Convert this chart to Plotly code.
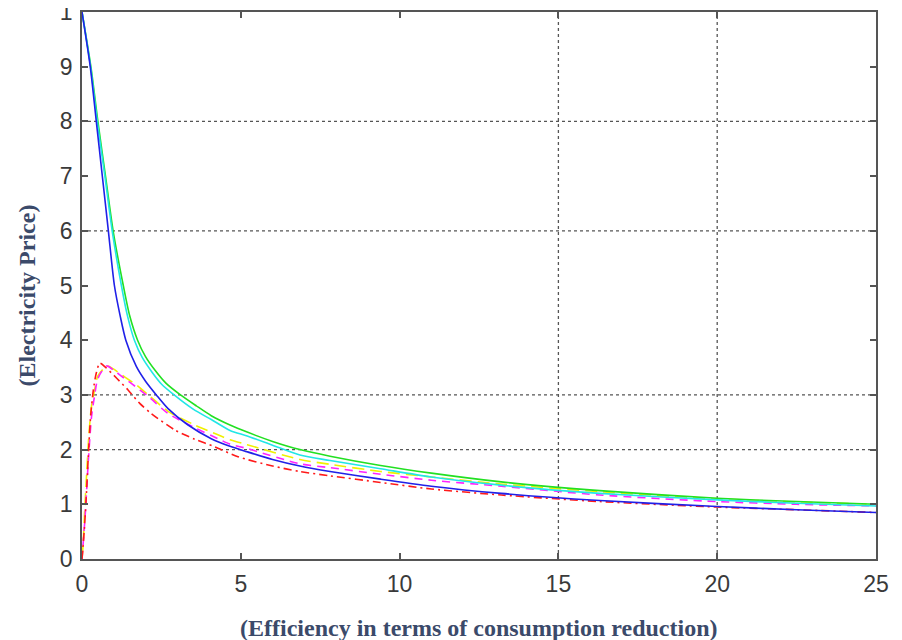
import plotly.graph_objects as go

# ---- data ----
green_x = [0, 0.28, 0.5, 0.74, 0.98, 1.3, 1.5, 1.75, 2.0, 2.3, 2.65, 3.1, 3.6, 4.07, 4.66, 5.2, 6.0, 6.86, 7.81, 9.4, 11.0, 13.2, 16.3, 20.0, 22.5, 25]
green_y = [10, 9.0, 8.0, 7.0, 6.0, 5.0, 4.45, 4.0, 3.7, 3.45, 3.21, 3.0, 2.8, 2.62, 2.45, 2.32, 2.15, 2.0, 1.88, 1.71, 1.57, 1.41, 1.25, 1.11, 1.05, 1.0]

cyan_x = [0, 0.27, 0.48, 0.72, 0.95, 1.24, 1.43, 1.65, 1.9, 2.2, 2.5, 2.9, 3.5, 4.07, 4.66, 5.2, 6.0, 6.86, 7.81, 9.4, 11.0, 13.2, 16.3, 20.0, 22.5, 25]
cyan_y = [10, 9.0, 8.0, 7.0, 6.0, 5.0, 4.45, 4.0, 3.68, 3.42, 3.2, 3.0, 2.74, 2.55, 2.35, 2.25, 2.08, 1.9, 1.8, 1.65, 1.5, 1.35, 1.2, 1.08, 1.02, 0.97]

blue_x = [0, 0.26, 0.45, 0.64, 0.83, 1.02, 1.2, 1.38, 1.71, 2.0, 2.34, 2.71, 3.34, 4.07, 4.66, 5.2, 6.0, 6.86, 7.81, 9.4, 11.0, 13.2, 16.3, 20.0, 22.5, 25]
blue_y = [10, 9.0, 8.0, 7.0, 6.0, 5.0, 4.45, 4.0, 3.52, 3.25, 3.0, 2.75, 2.45, 2.2, 2.06, 1.96, 1.82, 1.7, 1.6, 1.46, 1.33, 1.2, 1.07, 0.96, 0.9, 0.85]

yellow_x = [0, 0.04, 0.08, 0.15, 0.22, 0.3, 0.4, 0.5, 0.8, 1.0, 1.34, 1.76, 2.13, 2.71, 3.55, 4.28, 4.66, 5.2, 6.86, 7.81, 9.4, 11.0, 13.2, 16.3, 20.0, 22.5, 25]
yellow_y = [0, 0.3, 0.84, 1.6, 2.3, 2.8, 3.1, 3.35, 3.53, 3.47, 3.33, 3.16, 2.98, 2.7, 2.45, 2.27, 2.18, 2.09, 1.82, 1.73, 1.6, 1.5, 1.37, 1.23, 1.1, 1.04, 1.0]

magenta_x = [0, 0.1, 0.2, 0.3, 0.4, 0.5, 0.77, 1.0, 1.34, 1.76, 2.13, 2.71, 3.55, 4.28, 4.66, 5.2, 6.86, 7.81, 9.4, 11.0, 13.2, 16.3, 20.0, 22.5, 25]
magenta_y = [0, 0.8, 1.8, 2.6, 3.0, 3.3, 3.53, 3.45, 3.3, 3.12, 2.95, 2.66, 2.4, 2.2, 2.1, 2.02, 1.74, 1.67, 1.55, 1.44, 1.33, 1.17, 1.05, 1.0, 0.97]

red_x = [0, 0.08, 0.15, 0.2, 0.27, 0.36, 0.45, 0.56, 0.75, 1.1, 1.45, 1.81, 2.18, 2.92, 3.55, 4.18, 4.91, 6.0, 6.86, 7.81, 9.4, 11.0, 13.2, 16.3, 20.0, 22.5, 25]
red_y = [0, 0.6, 1.3, 1.9, 2.6, 3.1, 3.4, 3.58, 3.5, 3.3, 3.09, 2.85, 2.66, 2.36, 2.19, 2.05, 1.87, 1.7, 1.6, 1.52, 1.4, 1.28, 1.17, 1.05, 0.95, 0.9, 0.85]

x_ticks = [0, 5, 10, 15, 20, 25]
x_tick_labels = ["0", "5", "10", "15", "20", "25"]
y_ticks = [0, 1, 2, 3, 4, 5, 6, 7, 8, 9, 10]
y_tick_labels = ["0", "1", "2", "3", "4", "5", "6", "7", "8", "9", "1"]
grid_y = [2, 3, 6, 8]
grid_x = [15, 20]

x_title = "(Efficiency in terms of consumption reduction)"
y_title = "(Electricity Price)"

series = [
    (yellow_x, yellow_y, "#f0f000", "12px,6px"),
    (magenta_x, magenta_y, "#ff22ff", "8px,6px"),
    (red_x, red_y, "#ff1a1a", "8px,4px,2px,4px"),
    (green_x, green_y, "#22e022", "solid"),
    (cyan_x, cyan_y, "#22e6e6", "solid"),
    (blue_x, blue_y, "#2020e8", "solid"),
]

fig = go.Figure()
for xs, ys, col, dash in series:
    fig.add_trace(go.Scatter(x=xs, y=ys, mode="lines",
                             line=dict(color=col, width=1.6, dash=dash, shape="spline", smoothing=0.7),
                             showlegend=False))

shapes = []
for gy in grid_y:
    shapes.append(dict(type="line", xref="paper", yref="y", x0=0, x1=1, y0=gy, y1=gy,
                       line=dict(color="#555555", width=1.3, dash="dot"), layer="below"))
for gx in grid_x:
    shapes.append(dict(type="line", xref="x", yref="paper", x0=gx, x1=gx, y0=0, y1=1,
                       line=dict(color="#555555", width=1.3, dash="dot"), layer="below"))

axis_common = dict(showgrid=False, zeroline=False, showline=True, linecolor="#555555", linewidth=1.5,
                   mirror="ticks", ticks="inside", ticklen=6, tickwidth=1.5, tickcolor="#555555",
                   automargin=False, ticklabeloverflow="allow",
                   tickfont=dict(family="Liberation Sans, Arial, sans-serif", size=23, color="#3a3a3a"))

# the page body adds an 8px offset, so the figure is 8px smaller than the window
fig.update_layout(
    width=894, height=632,
    margin=dict(l=74, r=26, t=4, b=81),
    paper_bgcolor="white", plot_bgcolor="white",
    shapes=shapes,
    xaxis=dict(range=[0, 25], tickvals=x_ticks, ticktext=x_tick_labels, ticklabelstandoff=4, **axis_common),
    yaxis=dict(range=[0, 10], tickvals=y_ticks, ticktext=y_tick_labels, ticklabelstandoff=3, **axis_common),
    annotations=[
        dict(text=x_title, xref="paper", yref="paper", x=0.5, y=0, yshift=-69,
             xanchor="center", yanchor="middle", showarrow=False,
             font=dict(family="Liberation Serif, Times New Roman, serif", size=24, weight="bold", color="#3b4a6a")),
        dict(text=y_title, xref="paper", yref="paper", x=0, y=0.5, xshift=-56, yshift=-10,
             xanchor="center", yanchor="middle", textangle=-90, showarrow=False,
             font=dict(family="Liberation Serif, Times New Roman, serif", size=24, weight="bold", color="#3b4a6a")),
    ],
)
fig.write_html("out.html")
